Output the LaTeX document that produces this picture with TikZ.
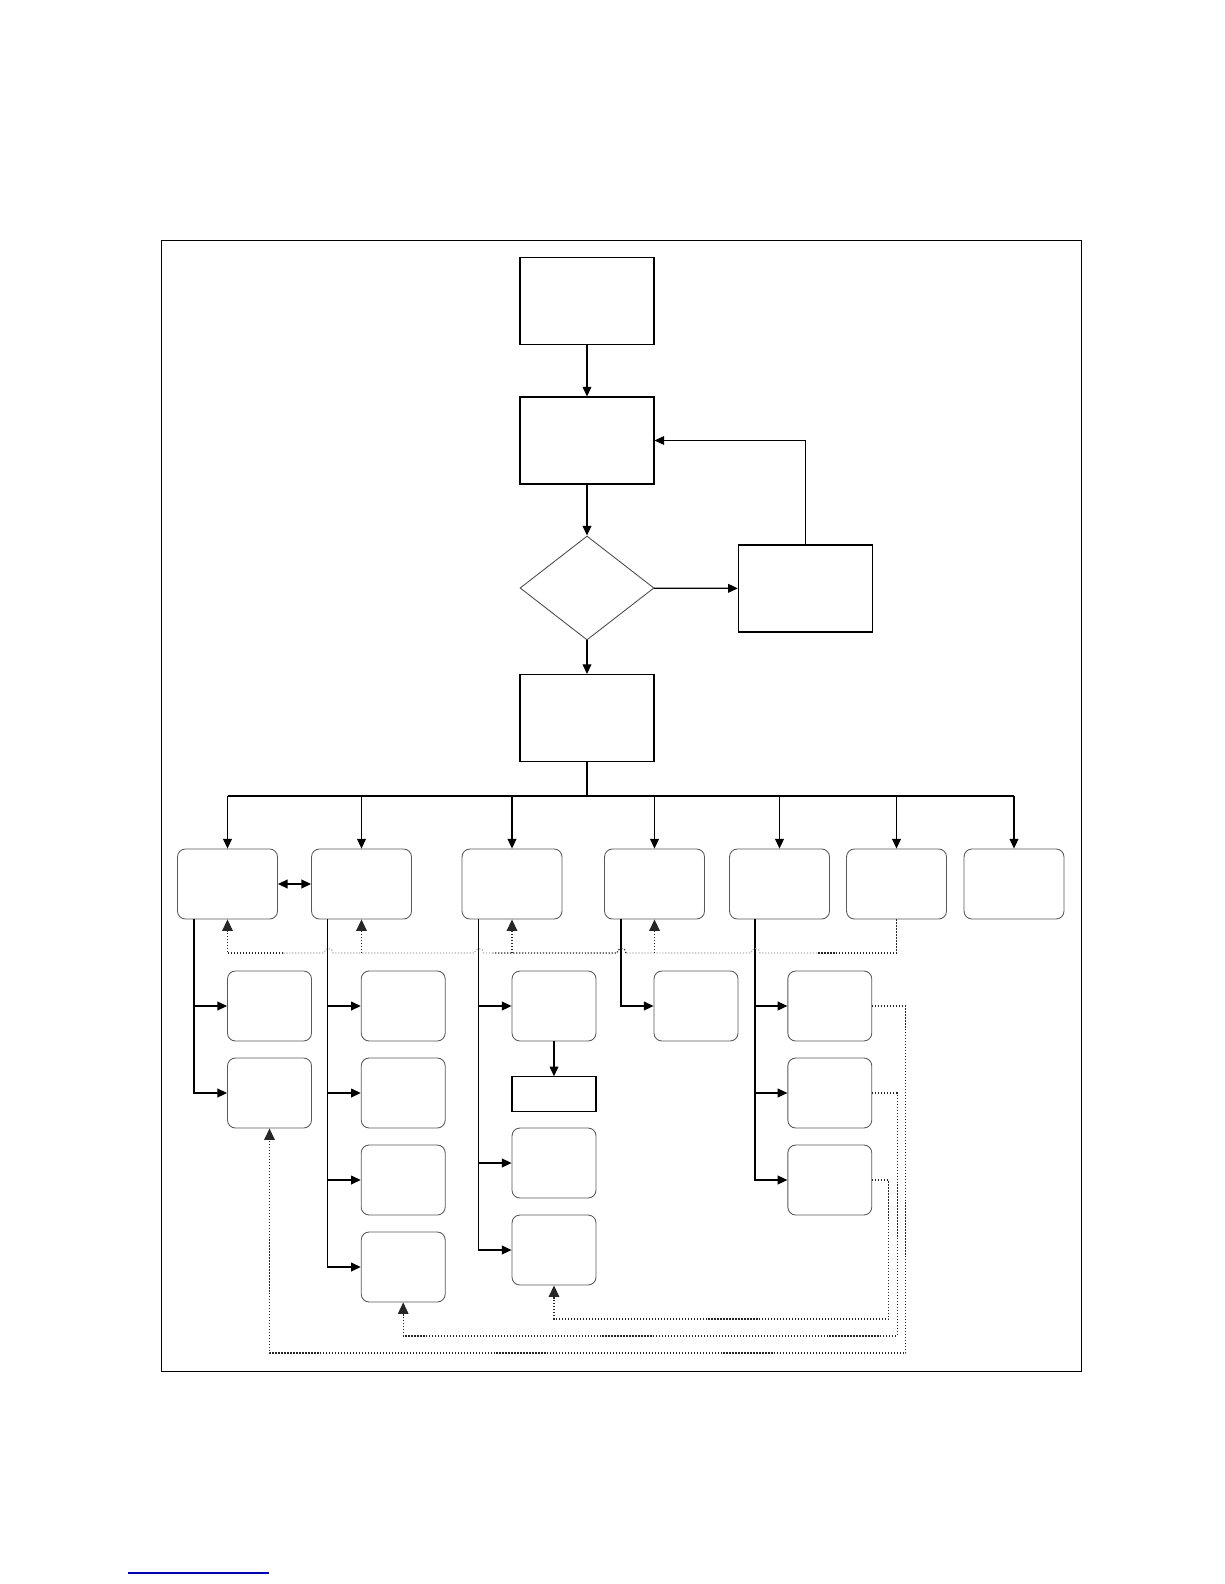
\documentclass[tikz,border=0pt]{standalone}
\usetikzlibrary{arrows.meta,shapes.geometric}

\begin{document}
\begin{tikzpicture}[x=0.02cm,y=-0.02cm,>={Triangle[length=5.5pt,width=5pt]}]
    \tikzset{
        stage/.style={
            draw,line width=0.6pt,inner sep=0pt,
            minimum width=2.68cm,minimum height=1.74cm
        },
        test/.style={
            draw=black!70,line width=0.5pt,diamond,inner sep=0pt,
            minimum width=2.68cm,minimum height=2.08cm
        },
        module/.style={
            draw=black!65,line width=0.5pt,rounded corners=4.5pt,inner sep=0pt,
            minimum width=2.0cm,minimum height=1.4cm
        },
        task/.style={
            draw=black!65,line width=0.5pt,rounded corners=4.5pt,inner sep=0pt,
            minimum width=1.68cm,minimum height=1.4cm
        },
        note/.style={
            draw,line width=0.6pt,inner sep=0pt,
            minimum width=1.68cm,minimum height=0.69cm
        },
        flow/.style={->,line width=0.7pt},
        link/.style={line width=0.7pt},
        fb/.style={densely dotted,line width=0.7pt,black!85,
            >={Triangle[length=6.5pt,width=6pt]}},
        fblight/.style={densely dotted,line width=0.7pt,black!30}
    }

    \useasboundingbox (0,0) rectangle (1224,1584);
    \draw[line width=0.6pt] (161.6,240.4) rectangle (1081.6,1371.5);
    \draw[blue!70!black,line width=0.8pt] (128,1573) -- (269,1573);

    \node[stage] (start) at (587,301) {};
    \node[stage] (setup) at (587,440.5) {};
    \node[test] (check) at (587,588) {};
    \node[stage] (fix) at (805.3,588.5) {};
    \node[stage] (launch) at (587,718) {};

    \node[module] (r1) at (227.5,884) {};
    \node[module] (r2) at (361.5,884) {};
    \node[module] (r3) at (512,884) {};
    \node[module] (r4) at (654.5,884) {};
    \node[module] (r5) at (779.5,884) {};
    \node[module] (r6) at (896.5,884) {};
    \node[module] (r7) at (1014,884) {};

    \node[task] (a1) at (269.5,1006) {};
    \node[task] (a2) at (269.5,1093) {};
    \node[task] (b1) at (403.2,1006) {};
    \node[task] (b2) at (403.2,1093) {};
    \node[task] (b3) at (403.2,1180) {};
    \node[task] (b4) at (403.2,1267) {};
    \node[task] (c1) at (554,1006) {};
    \node[note] (c2) at (554,1094) {};
    \node[task] (c3) at (554,1163) {};
    \node[task] (c4) at (554,1250) {};
    \node[task] (d1) at (696,1006) {};
    \node[task] (e1) at (829.8,1006) {};
    \node[task] (e2) at (829.8,1093) {};
    \node[task] (e3) at (829.8,1180) {};

    \coordinate (bus) at (587,796);
    \coordinate (back) at (587,953);

    \draw[flow] (start) -- (setup);
    \draw[flow] (setup) -- (check);
    \draw[flow] (check) -- (fix);
    \draw[flow] (fix.north) |- (setup.east);
    \draw[flow] (check) -- (launch);
    \draw[link] (launch.south) -- (bus);
    \draw[link] (r1.north |- bus) -- (r7.north |- bus);
    \foreach \n in {r1,r2,r3,r4,r5,r6,r7}{
        \draw[flow] (\n.north |- bus) -- (\n.north);
    }
    \draw[<->,line width=0.7pt] (r1) -- (r2);

    \foreach \n in {a1,a2}{
        \draw[flow] ([xshift=0.34cm]r1.south west) |- (\n.west);
    }
    \foreach \n in {b1,b2,b3,b4}{
        \draw[flow] ([xshift=0.33cm]r2.south west) |- (\n.west);
    }
    \foreach \n in {c1,c3,c4}{
        \draw[flow] ([xshift=0.34cm]r3.south west) |- (\n.west);
    }
    \draw[flow] ([xshift=0.34cm]r4.south west) |- (d1.west);
    \foreach \n in {e1,e2,e3}{
        \draw[flow] ([xshift=0.52cm]r5.south west) |- (\n.west);
    }
    \draw[flow] (c1) -- (c2);

    \draw[fb] (r6.south) |- (817,953);
    \draw[fblight] (817,953) -- (760,953)
        arc[start angle=0,end angle=180,radius=0.09cm] -- (626,953);
    \draw[fb] (626,953) arc[start angle=0,end angle=180,radius=0.09cm]
        -- (493,953);
    \draw[fblight] (493,953) -- (483.5,953)
        arc[start angle=0,end angle=180,radius=0.09cm] -- (333,953)
        arc[start angle=0,end angle=180,radius=0.09cm] -- (283,953);
    \draw[fb,->] (283,953) -| (r1.south);
    \foreach \n in {r2,r3,r4}{
        \draw[fb,->] (\n.south |- back) -- (\n.south);
    }

    \draw[fb,->] (e1.east) -- ++(33.5,0) -- ++(0,347) -| (a2.south);
    \draw[fb,->] (e2.east) -- ++(25,0) -- ++(0,243) -| (b4.south);
    \draw[fb,->] (e3.east) -- ++(16.5,0) -- ++(0,139) -| (c4.south);
\end{tikzpicture}
\end{document}
